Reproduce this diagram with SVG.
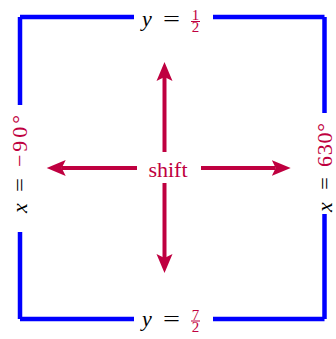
<svg xmlns="http://www.w3.org/2000/svg" width="336" height="339" viewBox="0 0 336 339">
<style>
.frame{stroke:#0000FF;stroke-width:4.5;fill:none;stroke-linecap:butt}
.arr{stroke:#BF0040;stroke-width:4;fill:none;stroke-linecap:butt}
.t{font-family:"Liberation Serif","Times New Roman",serif;font-size:22px;fill:#000}
.it{font-style:italic}
.red{fill:#BF0040}
.sc{font-family:"Liberation Serif","Times New Roman",serif;font-size:15px;fill:#BF0040;text-anchor:middle}
.bar{stroke:#BF0040;stroke-width:1}
</style>
<defs>
<marker id="head" markerUnits="userSpaceOnUse" markerWidth="20" markerHeight="18" viewBox="0 -9 20 18" refX="4" refY="0" orient="auto">
<path d="M19,0 L0,-8 L4,0 L0,8 Z" fill="#BF0040"/>
</marker>
</defs>
<g id="frame">
<line class="frame" x1="20" y1="17" x2="134" y2="17"/>
<line class="frame" x1="213" y1="17" x2="324.5" y2="17"/>
<line class="frame" x1="20" y1="319" x2="134" y2="319"/>
<line class="frame" x1="213" y1="319" x2="324.5" y2="319"/>
<line class="frame" x1="20" y1="17" x2="20" y2="105"/>
<line class="frame" x1="20" y1="232" x2="20" y2="319"/>
<line class="frame" x1="324.5" y1="17" x2="324.5" y2="113"/>
<line class="frame" x1="324.5" y1="214" x2="324.5" y2="319"/>
</g>
<g id="connectors">
<line class="arr" x1="164.5" y1="168" x2="164.5" y2="77" marker-end="url(#head)"/>
<line class="arr" x1="164.5" y1="168" x2="164.5" y2="258" marker-end="url(#head)"/>
<line class="arr" x1="168" y1="168" x2="61.7" y2="168" marker-end="url(#head)"/>
<line class="arr" x1="168" y1="168" x2="275.7" y2="168" marker-end="url(#head)"/>
</g>
<g id="shift">
<rect x="137" y="152" width="64" height="31" fill="#fff"/>
<text class="t red" x="168" y="176.5" font-size="25" text-anchor="middle">shift</text>
</g>
<g id="top-label">
<text class="t it" x="142" y="26">y</text>
<text class="t" x="163" y="26" textLength="17" lengthAdjust="spacingAndGlyphs">=</text>
<text class="sc" x="195.5" y="20">1</text>
<line class="bar" x1="191" y1="21.5" x2="200" y2="21.5"/>
<text class="sc" x="195.5" y="32">2</text>
</g>
<g id="bottom-label">
<text class="t it" x="142" y="326">y</text>
<text class="t" x="163" y="326" textLength="17" lengthAdjust="spacingAndGlyphs">=</text>
<text class="sc" x="195.5" y="319.5">7</text>
<line class="bar" x1="191" y1="321" x2="200" y2="321"/>
<text class="sc" x="195.5" y="332">2</text>
</g>
<g id="left-label" transform="translate(27,164) rotate(-90)">
<text class="t it" x="-49" y="0">x</text>
<text class="t" x="-28" y="0" textLength="14" lengthAdjust="spacingAndGlyphs">=</text>
<text class="t red" x="-3" y="0" textLength="52" lengthAdjust="spacing">−90°</text>
</g>
<g id="right-label" transform="translate(331.5,168) rotate(-90)">
<text class="t it" x="-44" y="0">x</text>
<text class="t" x="-22" y="0" textLength="13" lengthAdjust="spacingAndGlyphs">=</text>
<text class="t red" x="1" y="0" textLength="44" lengthAdjust="spacing">630°</text>
</g>
</svg>
